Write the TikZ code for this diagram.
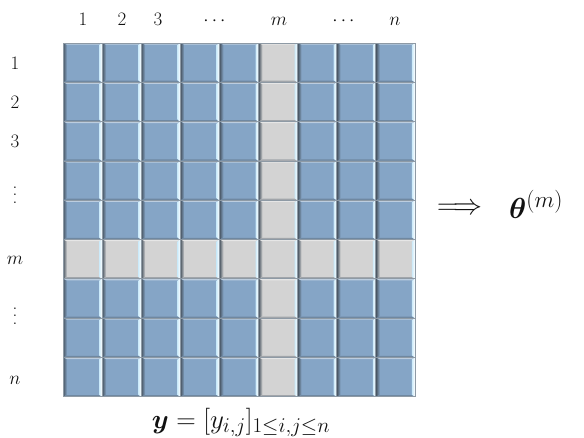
\RequirePackage{fix-cm}
\documentclass[tikz,border=0pt]{standalone}
\usepackage{amsmath,bm}
\usetikzlibrary{calc}
\definecolor{cellblue}{HTML}{85A5C6}
\definecolor{cellgrey}{HTML}{D3D3D3}
\definecolor{bevdark}{HTML}{46525E}
\definecolor{bevlight}{HTML}{FFFFFF}
\definecolor{bevcyan}{HTML}{CDEBFA}
\definecolor{gridline}{HTML}{8E9AA5}
\definecolor{ink}{HTML}{111111}
\DeclareMathSizes{29}{29}{23}{18}
\DeclareMathSizes{27}{27}{21}{16}
\newcommand{\lab}{\fontsize{19}{22}\selectfont}
\newcommand{\resfont}{\fontsize{29}{33}\selectfont}
\newcommand{\eqfont}{\fontsize{27}{31}\selectfont}
\newcommand{\tallvdots}{\vbox{\baselineskip=7.5pt\lineskiplimit=0pt\hbox{.}\hbox{.}\hbox{.}}}
\begin{document}
\begin{tikzpicture}[x=1pt,y=-1pt,font=\lab,text=ink]
\useasboundingbox (0,0) rectangle (584,437);
% cells, row and column m in grey
\foreach \r in {0,...,8}{
  \foreach \c in {0,...,8}{
    \ifnum\r=5 \def\cellcol{cellgrey}\else\ifnum\c=5 \def\cellcol{cellgrey}\else\def\cellcol{cellblue}\fi\fi
    \pgfmathsetmacro\xa{63+39.1*\c}
    \pgfmathsetmacro\xb{\xa+39.1}
    \pgfmathsetmacro\ya{43+39.3*\r}
    \pgfmathsetmacro\yb{\ya+39.3}
    \fill[\cellcol] (\xa,\ya) rectangle (\xb,\yb);
    \fill[white,opacity=0.45] (\xa,\ya) -- (\xb,\ya) -- (\xb-3,\ya+1.6) -- (\xa+3.5,\ya+1.6) -- cycle;
    \fill[bevdark,opacity=0.35] (\xa,\yb) -- (\xb,\yb) -- (\xb-3,\yb-1.6) -- (\xa+3.5,\yb-1.6) -- cycle;
    \shade[left color=bevdark,right color=\cellcol] (\xa,\ya) -- (\xa+4,\ya+2) -- (\xa+4,\yb-2) -- (\xa,\yb) -- cycle;
    \shade[left color=bevcyan,right color=bevlight] (\xb,\ya) -- (\xb-3,\ya+2) -- (\xb-3,\yb-2) -- (\xb,\yb) -- cycle;
    \draw[gridline,line width=0.8pt] (\xa,\ya) rectangle (\xb,\yb);
  }
}
% column labels
\node[anchor=base] (c1) at (83,25) {1};
\node[anchor=base] (c2) at (122,25) {2};
\node[anchor=base] (c3) at (158,25) {3};
\node[anchor=base] (cd1) at (216,25) {$\cdots$};
\node[anchor=base] (cm) at (279,25) {$m$};
\node[anchor=base] (cd2) at (345,25) {$\cdots$};
\node[anchor=base] (cn) at (395,25) {$n$};
% row labels
\node (r1) at (15,63) {1};
\node (r2) at (15,102) {2};
\node (r3) at (15,141) {3};
\node (rd1) at (15,195) {\tallvdots};
\node (rm) at (15,260) {$m$};
\node (rd2) at (15,316) {\tallvdots};
\node (rn) at (15,380) {$n$};
% result
\node[anchor=base west,inner sep=0,font=\resfont] (arr) at (437,214) {$\Longrightarrow$};
\node[anchor=base west,inner sep=0,font=\resfont] (theta) at (509,218) {$\bm{\theta}^{(m)}$};
\node[anchor=base,inner sep=0,font=\eqfont] (ylab) at (241,428) {$\bm{y}=[y_{i,j}]_{1\le i,j\le n}$};
\end{tikzpicture}
\end{document}
